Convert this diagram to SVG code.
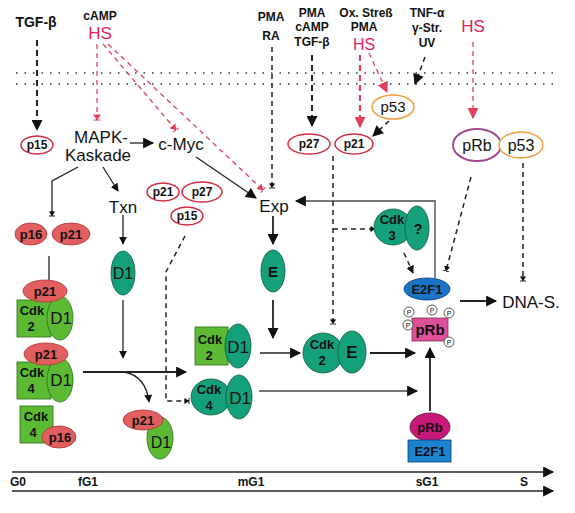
<svg xmlns="http://www.w3.org/2000/svg" width="575" height="513" viewBox="0 0 575 513">
<defs>
<style>
text{font-family:"Liberation Sans",Arial,sans-serif}
.lab{font-size:17px;fill:#111}
.top{font-size:12px;font-weight:bold;fill:#111;text-anchor:middle}
.hs{font-size:17px;fill:#e8205a;text-anchor:middle}
.nd{font-size:14px;font-weight:bold;fill:#111;text-anchor:middle}
.sm{font-size:13px;font-weight:bold;fill:#111;text-anchor:middle}
.ph{font-size:7px;fill:#111;text-anchor:middle}
.ax{font-size:12px;font-weight:bold;fill:#111;text-anchor:middle}
.ro{fill:#fff;stroke:#d42a40;stroke-width:1.5}
.oo{fill:#fff;stroke:#f0a040;stroke-width:1.5}
.po{fill:#fff;stroke:#a04a90;stroke-width:2}
.sal{fill:#e35e5e;stroke:#a33;stroke-width:0.8}
.lg{fill:#5dbb33;stroke:#2a6a1a;stroke-width:0.8}
.dg{fill:#14a07a;stroke:#0a5a40;stroke-width:0.8}
.ln{fill:none;stroke:#222;stroke-width:1.3}
.lnb{fill:none;stroke:#222;stroke-width:1.8}
.gr{fill:none;stroke:#777;stroke-width:1.8}
.da{fill:none;stroke:#222;stroke-width:1.5;stroke-dasharray:5,4}
.dab{fill:none;stroke:#222;stroke-width:2;stroke-dasharray:6,4}
.rd{fill:none;stroke:#e0405a;stroke-width:1.3;stroke-dasharray:5,4}
.rdb{fill:none;stroke:#e0405a;stroke-width:2.2;stroke-dasharray:6,4}
.dot{fill:none;stroke:#333;stroke-width:1.5;stroke-dasharray:1.5,7}
</style>
<marker id="a" viewBox="0 0 10 10" refX="9" refY="5" markerWidth="8" markerHeight="8" markerUnits="userSpaceOnUse" orient="auto"><path d="M0,0L10,5L0,10z" fill="#111"/></marker>
<marker id="ab" viewBox="0 0 10 10" refX="9" refY="5" markerWidth="13" markerHeight="11" markerUnits="userSpaceOnUse" orient="auto"><path d="M0,0L10,5L0,10z" fill="#111"/></marker>
<marker id="ar" viewBox="0 0 10 10" refX="9" refY="5" markerWidth="11" markerHeight="11" markerUnits="userSpaceOnUse" orient="auto"><path d="M0,0L10,5L0,10z" fill="#e0405a"/></marker>
<marker id="t" viewBox="0 0 10 10" refX="9" refY="5" markerWidth="6" markerHeight="8" markerUnits="userSpaceOnUse" orient="auto"><path d="M2,1L8,5L2,9z M9,0V10" fill="#111" stroke="#111" stroke-width="1.5"/></marker>
<marker id="tr" viewBox="0 0 10 10" refX="9" refY="5" markerWidth="7" markerHeight="9" markerUnits="userSpaceOnUse" orient="auto"><path d="M2,1L8,5L2,9z M9,0V10" fill="#e0405a" stroke="#e0405a" stroke-width="1.5"/></marker>
</defs>
<rect width="575" height="513" fill="#fff"/>

<g id="labels-top">
<text class="top" x="36" y="27" style="font-size:14px">TGF-β</text>
<text class="top" x="100" y="20">cAMP</text>
<text class="hs" x="100" y="39">HS</text>
<text class="top" x="271" y="21">PMA</text>
<text class="top" x="271" y="40">RA</text>
<text class="top" x="312" y="17">PMA</text>
<text class="top" x="312" y="31">cAMP</text>
<text class="top" x="312" y="46">TGF-β</text>
<text class="top" x="366" y="17">Ox. Streß</text>
<text class="top" x="364" y="31">PMA</text>
<text class="hs" x="364" y="50" style="font-size:16px">HS</text>
<text class="top" x="427" y="17">TNF-α</text>
<text class="top" x="427" y="32">γ-Str.</text>
<text class="top" x="427" y="47">UV</text>
<text class="hs" x="473" y="32">HS</text>
</g>

<g id="membrane">
<line class="dot" x1="16" y1="73" x2="560" y2="73"/>
<line class="dot" x1="16" y1="84" x2="560" y2="84"/>
</g>

<g id="connectors">
<line class="dab" x1="37" y1="40" x2="37" y2="130" marker-end="url(#ab)"/>
<line class="rd" x1="97" y1="44" x2="97" y2="120" marker-end="url(#tr)"/>
<line class="rd" x1="103" y1="44" x2="176" y2="130" marker-end="url(#tr)"/>
<line class="rd" x1="108" y1="44" x2="263" y2="190" marker-end="url(#tr)"/>
<line class="da" x1="272" y1="47" x2="272" y2="188" marker-end="url(#t)"/>
<line class="ln" x1="130" y1="143" x2="153" y2="143" marker-end="url(#ab)"/>
<line class="ln" x1="196" y1="157" x2="256" y2="198" marker-end="url(#ab)"/>
<polyline class="ln" points="78,167 52,181 52,216" marker-end="url(#t)"/>
<line class="ln" x1="103" y1="167" x2="118" y2="191" marker-end="url(#a)"/>
<line class="ln" x1="49" y1="256" x2="49" y2="281"/>
<line class="ln" x1="123" y1="215" x2="123" y2="244" marker-end="url(#a)"/>
<line class="ln" x1="123" y1="300" x2="123" y2="358" marker-end="url(#a)"/>
<polyline class="da" points="185,236 168,268 166,272 166,401 189,401" marker-end="url(#t)"/>
<line class="lnb" x1="83" y1="372" x2="186" y2="372" marker-end="url(#ab)"/>
<path class="ln" d="M124,372 Q146,376 149,402" marker-end="url(#a)"/>
<line class="lnb" x1="273" y1="216" x2="273" y2="244" marker-end="url(#ab)"/>
<line class="lnb" x1="273" y1="300" x2="273" y2="338" marker-end="url(#ab)"/>
<line class="ln" x1="260" y1="353" x2="300" y2="353" marker-end="url(#ab)"/>
<line class="lnb" x1="370" y1="353" x2="415" y2="353" marker-end="url(#ab)"/>
<line class="gr" x1="259" y1="391" x2="417" y2="391" marker-end="url(#ab)"/>
<polyline class="gr" points="435,278 435,201 296,201" marker-end="url(#ab)"/>
<line class="dab" x1="312" y1="55" x2="312" y2="126" marker-end="url(#ab)"/>
<line class="rdb" x1="360" y1="55" x2="360" y2="127" marker-end="url(#ar)"/>
<line class="rd" x1="369" y1="53" x2="387" y2="92" marker-end="url(#ar)"/>
<line class="da" x1="425" y1="57" x2="415" y2="84" marker-end="url(#ab)"/>
<line class="da" x1="389" y1="121" x2="373" y2="136" marker-end="url(#ab)"/>
<line class="rd" x1="473" y1="42" x2="473" y2="118" marker-end="url(#ar)"/>
<line class="da" x1="333" y1="156" x2="333" y2="324" marker-end="url(#t)"/>
<line class="da" x1="333" y1="229" x2="375" y2="229" marker-end="url(#t)"/>
<line class="da" x1="404" y1="253" x2="413" y2="273" marker-end="url(#a)"/>
<line class="da" x1="471" y1="177" x2="446" y2="271" marker-end="url(#t)"/>
<line class="da" x1="523" y1="163" x2="523" y2="281" marker-end="url(#t)"/>
<line class="lnb" x1="460" y1="301" x2="496" y2="301" marker-end="url(#ab)"/>
<line class="lnb" x1="430" y1="411" x2="430" y2="348" marker-end="url(#ab)"/>
</g>

<g id="text-nodes">
<text class="lab" x="101" y="143" text-anchor="middle">MAPK-</text>
<text class="lab" x="98" y="161" text-anchor="middle">Kaskade</text>
<text class="lab" x="181" y="150" text-anchor="middle">c-Myc</text>
<text class="lab" x="123" y="213" text-anchor="middle">Txn</text>
<text class="lab" x="274" y="212" text-anchor="middle">Exp</text>
<text class="lab" x="531" y="308" text-anchor="middle">DNA-S.</text>
</g>

<g id="p15-left"><ellipse class="ro" cx="37" cy="145" rx="16" ry="9"/><text class="sm" x="37" y="149" style="font-size:12px">p15</text></g>

<g id="inhibitors-mid">
<ellipse class="ro" cx="163" cy="192" rx="16" ry="9"/><text class="sm" x="163" y="196" style="font-size:12px">p21</text>
<ellipse class="ro" cx="202" cy="192" rx="20" ry="10"/><text class="sm" x="202" y="196" style="font-size:12px">p27</text>
<ellipse class="ro" cx="187" cy="216" rx="16" ry="9"/><text class="sm" x="187" y="220" style="font-size:12px">p15</text>
</g>

<g id="p27-p21-right">
<ellipse class="ro" cx="309" cy="144" rx="21" ry="10"/><text class="sm" x="309" y="148" style="font-size:12px">p27</text>
<ellipse class="ro" cx="354" cy="144" rx="19" ry="10"/><text class="sm" x="354" y="148" style="font-size:12px">p21</text>
</g>

<g id="p53-top"><ellipse class="oo" cx="393" cy="107" rx="21" ry="12"/><text class="nd" x="393" y="112" style="font-weight:normal;font-size:15px">p53</text></g>

<g id="pRb-p53">
<ellipse class="po" cx="477" cy="145" rx="24" ry="16"/><text class="nd" x="477" y="151" style="font-weight:normal;font-size:16px">pRb</text>
<ellipse class="oo" cx="521" cy="145" rx="22" ry="13"/><text class="nd" x="521" y="151" style="font-weight:normal;font-size:16px">p53</text>
</g>

<g id="p16-p21"><ellipse class="sal" cx="31" cy="234" rx="16" ry="11"/><text class="sm" x="31" y="239">p16</text>
<ellipse class="sal" cx="71" cy="234" rx="19" ry="11"/><text class="sm" x="71" y="239">p21</text></g>

<g id="cplx-p21-cdk2-d1">
<rect class="lg" x="17" y="300" width="34" height="37"/>
<ellipse class="lg" cx="60" cy="318" rx="13" ry="22"/>
<ellipse class="sal" cx="45" cy="291" rx="22" ry="11"/>
<text class="sm" x="45" y="296">p21</text>
<text class="sm" x="32" y="315">Cdk</text><text class="sm" x="31" y="331">2</text>
<text class="nd" x="61" y="324" style="font-weight:normal;font-size:17px">D1</text>
</g>

<g id="cplx-p21-cdk4-d1">
<rect class="lg" x="17" y="362" width="34" height="37"/>
<ellipse class="lg" cx="60" cy="380" rx="13" ry="22"/>
<ellipse class="sal" cx="46" cy="354" rx="22" ry="11"/>
<text class="sm" x="46" y="359">p21</text>
<text class="sm" x="32" y="377">Cdk</text><text class="sm" x="31" y="393">4</text>
<text class="nd" x="61" y="386" style="font-weight:normal;font-size:17px">D1</text>
</g>

<g id="cplx-cdk4-p16">
<rect class="lg" x="20" y="406" width="33" height="37"/>
<ellipse class="sal" cx="59" cy="437" rx="17" ry="11"/>
<text class="sm" x="36" y="421">Cdk</text><text class="sm" x="33" y="437">4</text>
<text class="sm" x="60" y="442">p16</text>
</g>

<g id="D1-free"><ellipse class="dg" cx="123" cy="273" rx="12" ry="22"/><text class="nd" x="123" y="279" style="font-weight:normal;font-size:16px">D1</text></g>

<g id="cplx-p21-d1">
<ellipse class="lg" cx="160" cy="438" rx="13" ry="21"/>
<ellipse class="sal" cx="143" cy="420" rx="20" ry="10"/>
<text class="sm" x="143" y="425">p21</text>
<text class="nd" x="161" y="448" style="font-weight:normal;font-size:16px">D1</text>
</g>

<g id="cplx-cdk2-d1">
<rect class="lg" x="195" y="327" width="33" height="38"/>
<ellipse class="dg" cx="238" cy="346" rx="13" ry="22"/>
<text class="sm" x="210" y="344">Cdk</text><text class="sm" x="209" y="360">2</text>
<text class="nd" x="238" y="353" style="font-weight:normal;font-size:17px">D1</text>
</g>

<g id="cplx-cdk4-d1">
<ellipse class="dg" cx="211" cy="397" rx="20" ry="18"/>
<ellipse class="dg" cx="239" cy="397" rx="13" ry="22"/>
<text class="sm" x="209" y="394">Cdk</text><text class="sm" x="209" y="410">4</text>
<text class="nd" x="240" y="404" style="font-weight:normal;font-size:17px">D1</text>
</g>

<g id="E-free"><ellipse class="dg" cx="273" cy="271" rx="12" ry="21"/><text class="nd" x="273" y="277" style="font-size:15px">E</text></g>

<g id="cplx-cdk2-E">
<ellipse class="dg" cx="323" cy="353" rx="20" ry="20"/>
<ellipse class="dg" cx="352" cy="352" rx="14" ry="21"/>
<text class="sm" x="322" y="349">Cdk</text><text class="sm" x="322" y="365">2</text>
<text class="nd" x="352" y="358" style="font-size:17px">E</text>
</g>

<g id="cplx-cdk3-q">
<ellipse class="dg" cx="393" cy="227" rx="19" ry="18"/>
<ellipse class="dg" cx="417" cy="228" rx="12" ry="22"/>
<text class="sm" x="392" y="224">Cdk</text><text class="sm" x="392" y="240">3</text>
<text class="nd" x="418" y="234" style="font-size:15px">?</text>
</g>

<g id="E2F1-pRbP">
<ellipse cx="427" cy="289" rx="23" ry="11" fill="#1a74c8" stroke="#0a3a7a" stroke-width="0.8"/>
<text class="sm" x="427" y="294">E2F1</text>
<rect x="412" y="318" width="36" height="23" fill="#e0509a" stroke="#803050" stroke-width="0.8"/>
<text class="nd" x="430" y="335" style="font-size:15px">pRb</text>
<g fill="#fff" stroke="#333" stroke-width="0.8">
<circle cx="409" cy="312" r="5"/><circle cx="432" cy="310" r="5"/><circle cx="449" cy="313" r="5"/><circle cx="408" cy="325" r="5"/><circle cx="449" cy="342" r="5"/>
</g>
<text class="ph" x="409" y="314.5">P</text><text class="ph" x="432" y="312.5">P</text><text class="ph" x="449" y="315.5">P</text><text class="ph" x="408" y="327.5">P</text><text class="ph" x="449" y="344.5">P</text>
</g>

<g id="pRb-E2F1">
<ellipse cx="430" cy="427" rx="20" ry="14" fill="#c8187a" stroke="#601040" stroke-width="0.8"/>
<rect x="408" y="440" width="43" height="22" fill="#1a84d0" stroke="#0a3a7a" stroke-width="0.8"/>
<text class="sm" x="430" y="432">pRb</text>
<text class="sm" x="430" y="456">E2F1</text>
</g>

<g id="timeline">
<line x1="12" y1="472" x2="553" y2="472" stroke="#222" stroke-width="1.5" marker-end="url(#ab)"/>
<line x1="12" y1="491" x2="553" y2="491" stroke="#222" stroke-width="1.5" marker-end="url(#ab)"/>
<text class="ax" x="18" y="486">G0</text>
<text class="ax" x="88" y="486">fG1</text>
<text class="ax" x="251" y="486">mG1</text>
<text class="ax" x="427" y="486">sG1</text>
<text class="ax" x="524" y="486">S</text>
</g>
</svg>
